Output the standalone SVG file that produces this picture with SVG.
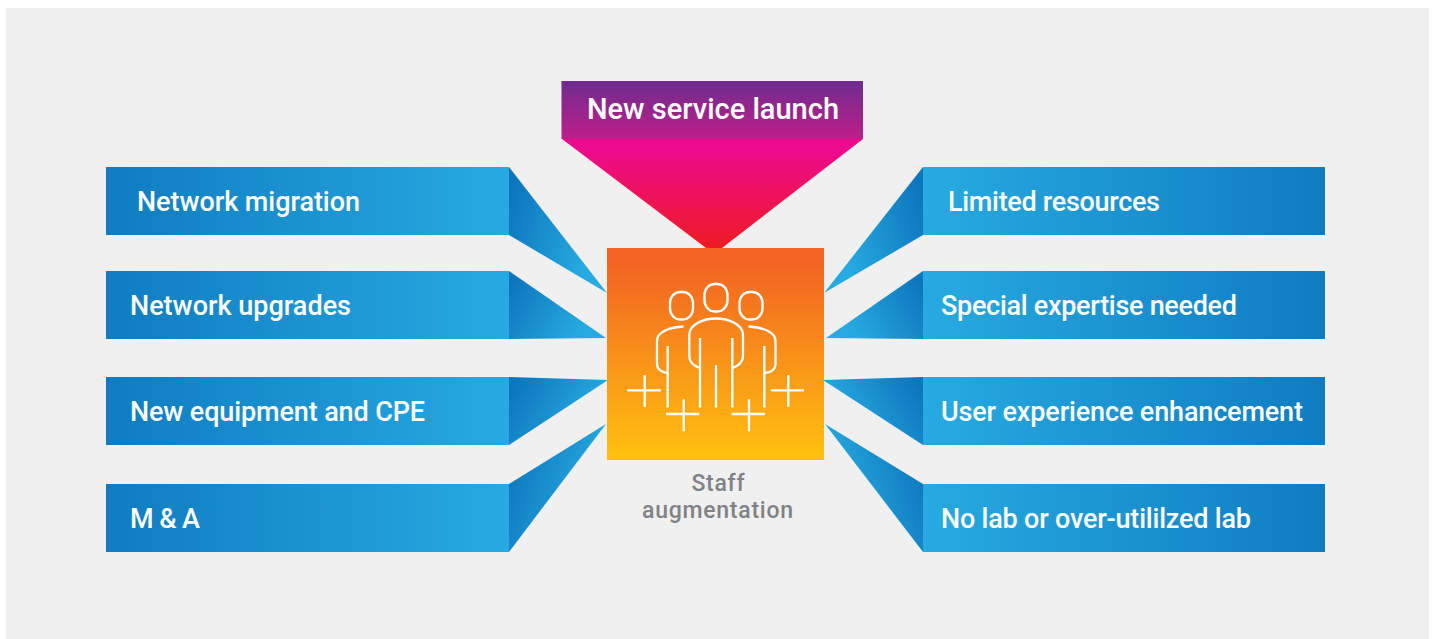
<svg xmlns="http://www.w3.org/2000/svg" width="1438" height="639" viewBox="0 0 1438 639">
<defs>
<linearGradient id="barL" x1="0" y1="0" x2="1" y2="0"><stop offset="0" stop-color="#0f7cc1"/><stop offset="1" stop-color="#27aae1"/></linearGradient>
<linearGradient id="barR" x1="0" y1="0" x2="1" y2="0"><stop offset="0" stop-color="#27aae1"/><stop offset="1" stop-color="#0f7cc1"/></linearGradient>
<linearGradient id="triL" x1="0" y1="0.25" x2="0.85" y2="0.6"><stop offset="0" stop-color="#0d76bc"/><stop offset="1" stop-color="#27aae1"/></linearGradient>
<linearGradient id="triR" x1="1" y1="0.25" x2="0.15" y2="0.6"><stop offset="0" stop-color="#0d76bc"/><stop offset="1" stop-color="#27aae1"/></linearGradient>
<linearGradient id="top" x1="0" y1="0" x2="0" y2="1"><stop offset="0" stop-color="#6d2c8f"/><stop offset="1" stop-color="#bf1e8a"/></linearGradient>
<linearGradient id="funnel" x1="0" y1="0" x2="0" y2="1"><stop offset="0.1" stop-color="#ec0b8d"/><stop offset="1" stop-color="#ed1c24"/></linearGradient>
<linearGradient id="center" x1="0" y1="0" x2="0" y2="1"><stop offset="0.08" stop-color="#f26522"/><stop offset="1" stop-color="#ffc20e"/></linearGradient>
</defs>
<style>
.t{font-family:Roboto,"Liberation Sans",sans-serif;font-size:27px;font-weight:500;fill:#fff}
.h{font-size:29px}
.g{font-family:Roboto,"Liberation Sans",sans-serif;font-size:23px;font-weight:500;fill:#808285;text-anchor:middle}
.i{fill:none;stroke:#fff;stroke-width:2.300}
</style>
<rect x="0" y="0" width="1438" height="639" fill="#fff"/>
<rect x="6" y="8" width="1423" height="631" fill="#f0f0f0"/>
<g id="connectors">
<polygon points="509,167 607,293 509,235" fill="url(#triL)"/>
<polygon points="509,271 606,338 509,339" fill="url(#triL)"/>
<polygon points="509,377 608,380 509,445" fill="url(#triL)"/>
<polygon points="509,484 606,424 509,552" fill="url(#triL)"/>
<polygon points="923,167 824,293 923,235" fill="url(#triR)"/>
<polygon points="923,271 826,338 923,339" fill="url(#triR)"/>
<polygon points="923,377 823,380 923,445" fill="url(#triR)"/>
<polygon points="923,484 825,424 923,552" fill="url(#triR)"/>
<polygon points="562,139 863,139 722,248 706,248" fill="url(#funnel)"/>
</g>
<g id="node-top">
<rect x="561.500" y="81" width="301.500" height="58" fill="url(#top)"/>
<text class="t h" x="587" y="119" textLength="252">New service launch</text>
</g>
<g id="node-l1"><rect x="106" y="167" width="403" height="68" fill="url(#barL)"/><text class="t" x="137" y="211" textLength="223">Network migration</text></g>
<g id="node-l2"><rect x="106" y="271" width="403" height="68" fill="url(#barL)"/><text class="t" x="130" y="315" textLength="221">Network upgrades</text></g>
<g id="node-l3"><rect x="106" y="377" width="403" height="68" fill="url(#barL)"/><text class="t" x="130" y="421" textLength="295">New equipment and CPE</text></g>
<g id="node-l4"><rect x="106" y="484" width="403" height="68" fill="url(#barL)"/><text class="t" x="130" y="528" textLength="70">M &amp; A</text></g>
<g id="node-r1"><rect x="923" y="167" width="402" height="68" fill="url(#barR)"/><text class="t" x="948" y="211" textLength="212">Limited resources</text></g>
<g id="node-r2"><rect x="923" y="271" width="402" height="68" fill="url(#barR)"/><text class="t" x="941" y="315" textLength="296">Special expertise needed</text></g>
<g id="node-r3"><rect x="923" y="377" width="402" height="68" fill="url(#barR)"/><text class="t" x="941" y="421" textLength="362">User experience enhancement</text></g>
<g id="node-r4"><rect x="923" y="484" width="402" height="68" fill="url(#barR)"/><text class="t" x="941" y="528" textLength="310">No lab or over-utililzed lab</text></g>
<g id="node-center">
<rect x="607" y="248" width="217" height="212" fill="url(#center)"/>
<g class="i">
<rect x="670" y="292" width="23" height="27.500" rx="10" ry="11"/>
<rect x="704.500" y="284" width="23" height="27.500" rx="10" ry="11"/>
<rect x="739.500" y="292" width="23" height="27.500" rx="10" ry="11"/>
<path d="M683.500 326.500C670 327 657 332 657 341V364C657 369 662 373 668 373"/>
<path d="M748.500 326.500C762 327 775.500 332 775.500 341V364C775.500 369 771 373 765 373"/>
<path d="M700 368C694 366 689.300 362 689.300 356V335C689.300 324 704 318.500 716 318.500C728 318.500 743 324 743 335V356C743 362 738 366 732.500 368"/>
<path d="M667.700 346V407.500M700 338V407.500M716 365V407.500M732.300 338V407.500M764.300 346V407.500"/>
<path d="M627.300 390.300H660.700M644.700 375V406.700M666 414H699.300M683.700 399.300V431.300M731.700 414H765M749 399.300V431.300M771 390.300H804M788.300 375V406.700"/>
</g>
</g>
<g id="label-center">
<text class="g" x="718" y="491" textLength="53">Staff</text>
<text class="g" x="717.500" y="518" textLength="151">augmentation</text>
</g>
</svg>
